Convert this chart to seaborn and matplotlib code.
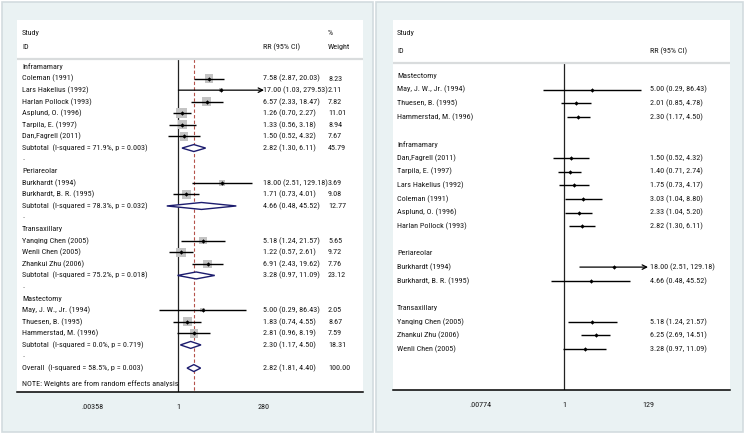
import numpy as np
import pandas as pd
import seaborn as sns
import matplotlib.pyplot as plt
from matplotlib import font_manager
from matplotlib.patches import Rectangle, Polygon

# ---- left panel: subgroup meta-analysis ----
left_groups = ["Inframamary", "Periareolar", "Transaxillary", "Mastectomy"]
left_studies = [
    ["Coleman (1991)", "Lars Hakelius (1992)", "Harlan Pollock (1993)",
     "Asplund, O. (1996)", "Tarpila, E. (1997)", "Dan,Fagrell (2011)"],
    ["Burkhardt (1994)", "Burkhardt, B. R. (1995)"],
    ["Yanqing Chen (2005)", "Wenli Chen (2005)", "Zhankui Zhu (2006)"],
    ["May, J. W., Jr. (1994)", "Thuesen, B. (1995)", "Hammerstad, M. (1996)"],
]
left_rr = [[7.58, 17.00, 6.57, 1.26, 1.33, 1.50], [18.00, 1.71], [5.18, 1.22, 6.91], [5.00, 1.83, 2.81]]
left_lo = [[2.87, 1.03, 2.33, 0.70, 0.56, 0.52], [2.51, 0.73], [1.24, 0.57, 2.43], [0.29, 0.74, 0.96]]
left_hi = [[20.03, 279.53, 18.47, 2.27, 3.18, 4.32], [129.18, 4.01], [21.57, 2.61, 19.62], [86.43, 4.55, 8.19]]
left_wt = [[8.23, 2.11, 7.82, 11.01, 8.94, 7.67], [3.69, 9.08], [5.65, 9.72, 7.76], [2.05, 8.67, 7.59]]
left_arrow = ["Lars Hakelius (1992)"]

sub_i2 = ["71.9%", "78.3%", "75.2%", "0.0%"]
sub_p = ["0.003", "0.032", "0.018", "0.719"]
sub_rr = [2.82, 4.66, 3.28, 2.30]
sub_lo = [1.30, 0.48, 0.97, 1.17]
sub_hi = [6.11, 45.52, 11.09, 4.50]
sub_wt = [45.79, 12.77, 23.12, 18.31]

overall = {"i2": "58.5%", "p": "0.003", "rr": 2.82, "lo": 1.81, "hi": 4.40, "wt": 100.00}
left_ticks = [0.00358, 1, 280]
left_ticklabels = [".00358", "1", "280"]

# ---- right panel: individual studies ----
right_groups = ["Mastectomy", "Inframamary", "Periareolar", "Transaxillary"]
right_studies = [
    ["May, J. W., Jr. (1994)", "Thuesen, B. (1995)", "Hammerstad, M. (1996)"],
    ["Dan,Fagrell (2011)", "Tarpila, E. (1997)", "Lars Hakelius (1992)",
     "Coleman (1991)", "Asplund, O. (1996)", "Harlan Pollock (1993)"],
    ["Burkhardt (1994)", "Burkhardt, B. R. (1995)"],
    ["Yanqing Chen (2005)", "Zhankui Zhu (2006)", "Wenli Chen (2005)"],
]
right_rr = [[5.00, 2.01, 2.30], [1.50, 1.40, 1.75, 3.03, 2.33, 2.82], [18.00, 4.66], [5.18, 6.25, 3.28]]
right_lo = [[0.29, 0.85, 1.17], [0.52, 0.71, 0.73, 1.04, 1.04, 1.30], [2.51, 0.48], [1.24, 2.69, 0.97]]
right_hi = [[86.43, 4.78, 4.50], [4.32, 2.74, 4.17, 8.80, 5.20, 6.11], [129.18, 45.52], [21.57, 14.51, 11.09]]
right_arrow = ["Burkhardt (1994)"]
right_ticks = [0.00774, 1, 129]
right_ticklabels = [".00774", "1", "129"]

W, H = 745, 434
BG = "#eaf2f3"
EDGE = "#d3dcdf"
TXT = "#1a1a1a"
NAVY = "#1c1c6e"

sns.set_style("white")

# Stata draws these in a narrow sans; use a condensed face if one is installed
fonts = font_manager.fontManager.ttflist
names = {f.name for f in fonts}
FONT, STRETCH, FS = "Liberation Sans", "normal", 5.2
for cand in ["Liberation Sans Narrow", "Arial Narrow", "Roboto Condensed",
             "Open Sans Condensed", "Noto Sans Condensed"]:
    if cand in names:
        FONT, STRETCH, FS = cand, "normal", 5.9
        break
else:
    for f in fonts:
        if f.name in ("DejaVu Sans", "Noto Sans", "Open Sans") and \
                str(f.stretch) in ("condensed", "semi-condensed", "75", "87.5"):
            FONT, STRETCH, FS = f.name, "condensed", 5.6
            break
plt.rcParams["font.family"] = [FONT, "DejaVu Sans"]
plt.rcParams["font.stretch"] = STRETCH

fig = plt.figure(figsize=(W / 100, H / 100), dpi=100)


def pix_axes(x0, y0, x1, y1):
    ax = fig.add_axes([x0 / W, 1 - y1 / H, (x1 - x0) / W, (y1 - y0) / H])
    ax.set_zorder(2)
    return ax


def outer_box(x0, y0, x1, y1):
    fig.patches.append(Rectangle((x0 / W, 1 - y1 / H), (x1 - x0) / W, (y1 - y0) / H,
                                 transform=fig.transFigure, facecolor=BG,
                                 edgecolor=EDGE, lw=1.2, zorder=-5))


def setup_axes(ax, px0, px1, px_one, ppl, row0_px, row_h, top_px, bot_px, ticks, labels):
    ax.set_xscale("log")
    ax.set_xlim(np.exp((px0 - px_one) / ppl), np.exp((px1 - px_one) / ppl))
    ax.set_ylim((bot_px - row0_px) / row_h, (top_px - row0_px) / row_h)
    ax.set_facecolor("white")
    for s in ["top", "left", "right"]:
        ax.spines[s].set_visible(False)
    ax.spines["bottom"].set_color("black")
    ax.spines["bottom"].set_linewidth(1.1)
    ax.set_yticks([])
    ax.set_xticks(ticks)
    ax.set_xticklabels(labels)
    ax.minorticks_off()
    ax.tick_params(axis="x", direction="out", length=4.5, width=0.8, pad=4,
                   labelsize=FS, colors="black", labelcolor=TXT)


def ci_line(ax, row, lo, hi, arrow):
    if arrow:
        ax.annotate("", xy=(hi, row), xytext=(lo, row),
                    arrowprops=dict(arrowstyle="->", color="black", lw=0.9,
                                    shrinkA=0, shrinkB=0, mutation_scale=8))
    else:
        ax.hlines(row, lo, hi, color="black", lw=1.0, zorder=3)


def diamond(ax, row, est, lo, hi, h=0.3):
    ax.add_patch(Polygon([(lo, row), (est, row - h), (hi, row), (est, row + h)],
                         closed=True, facecolor="white", edgecolor=NAVY, lw=1.0, zorder=4))


# ================= LEFT PANEL =================
outer_box(2, 2, 373, 432)
axl = pix_axes(17, 20, 363, 392)
L_ROW0, L_RH = 67, 11.58
setup_axes(axl, 17, 363, 178, 15.27, L_ROW0, L_RH, 20, 392, left_ticks, left_ticklabels)
tl = axl.get_yaxis_transform()

recs = []
row = 0
for g, grp in enumerate(left_groups):
    axl.text(0.0145, row, grp, transform=tl, fontsize=FS, color=TXT, va="center")
    row += 1
    for j, name in enumerate(left_studies[g]):
        recs.append(dict(name=name, row=row, rr=left_rr[g][j], lo=left_lo[g][j],
                         hi=left_hi[g][j], wt=left_wt[g][j]))
        row += 1
    axl.text(0.0145, row, f"Subtotal  (I-squared = {sub_i2[g]}, p = {sub_p[g]})",
             transform=tl, fontsize=FS, color=TXT, va="center")
    diamond(axl, row, sub_rr[g], sub_lo[g], sub_hi[g])
    axl.text(0.711, row, f"{sub_rr[g]:.2f} ({sub_lo[g]:.2f}, {sub_hi[g]:.2f})",
             transform=tl, fontsize=FS, color=TXT, va="center")
    axl.text(0.899, row, f"{sub_wt[g]:.2f}", transform=tl, fontsize=FS, color=TXT, va="center")
    row += 1
    axl.text(0.0145, row - 0.1, ".", transform=tl, fontsize=FS, color=TXT, va="center")
    row += 1

axl.text(0.0145, row, f"Overall  (I-squared = {overall['i2']}, p = {overall['p']})",
         transform=tl, fontsize=FS, color=TXT, va="center")
diamond(axl, row, overall["rr"], overall["lo"], overall["hi"])
axl.text(0.711, row, f"{overall['rr']:.2f} ({overall['lo']:.2f}, {overall['hi']:.2f})",
         transform=tl, fontsize=FS, color=TXT, va="center")
axl.text(0.899, row, f"{overall['wt']:.2f}", transform=tl, fontsize=FS, color=TXT, va="center")
axl.text(0.0145, row + 1.38, "NOTE: Weights are from random effects analysis",
         transform=tl, fontsize=FS, color=TXT, va="center")

dfl = pd.DataFrame(recs)
for r in dfl.itertuples():
    ci_line(axl, r.row, r.lo, r.hi, r.name in left_arrow)
    axl.text(0.0145, r.row, r.name, transform=tl, fontsize=FS, color=TXT, va="center")
    axl.text(0.711, r.row, f"{r.rr:.2f} ({r.lo:.2f}, {r.hi:.2f})",
             transform=tl, fontsize=FS, color=TXT, va="center")
    axl.text(0.899, r.row, f"{r.wt:.2f}", transform=tl, fontsize=FS, color=TXT, va="center")

sns.scatterplot(data=dfl, x="rr", y="row", marker="s", s=dfl["wt"] * 4.8,
                color="#c4c4c4", linewidth=0, ax=axl, zorder=2, legend=False)
sns.scatterplot(data=dfl, x="rr", y="row", marker="D", s=5, color="black",
                linewidth=0, ax=axl, zorder=5, legend=False)
axl.set_xlabel("")
axl.set_ylabel("")

# headers
hdr_sep = (59 - L_ROW0) / L_RH
axl.text(0.0145, (33 - L_ROW0) / L_RH, "Study", transform=tl, fontsize=FS, color=TXT, va="center")
axl.text(0.0145, (47 - L_ROW0) / L_RH, "ID", transform=tl, fontsize=FS, color=TXT, va="center")
axl.text(0.711, (47 - L_ROW0) / L_RH, "RR (95% CI)", transform=tl, fontsize=FS, color=TXT, va="center")
axl.text(0.899, (33 - L_ROW0) / L_RH, "%", transform=tl, fontsize=FS, color=TXT, va="center")
axl.text(0.899, (47 - L_ROW0) / L_RH, "Weight", transform=tl, fontsize=FS, color=TXT, va="center")
axl.axhline(hdr_sep, color="#d9dcdd", lw=1.6)
axl.vlines(1, hdr_sep, (392 - L_ROW0) / L_RH, color="#222222", lw=0.9, zorder=1)
axl.vlines(overall["rr"], hdr_sep, (392 - L_ROW0) / L_RH, color="#b5524a", lw=0.8,
           linestyles=(0, (3, 2)), zorder=1)

# ================= RIGHT PANEL =================
outer_box(376, 2, 743, 432)
axr = pix_axes(393, 20, 730, 390)
R_ROW0, R_RH = 76, 13.65
setup_axes(axr, 393, 730, 564, 17.28, R_ROW0, R_RH, 20, 390, right_ticks, right_ticklabels)
tr = axr.get_yaxis_transform()

recs = []
row = 0
for g, grp in enumerate(right_groups):
    axr.text(0.012, row, grp, transform=tr, fontsize=FS, color=TXT, va="center")
    row += 1
    for j, name in enumerate(right_studies[g]):
        recs.append(dict(name=name, row=row, rr=right_rr[g][j], lo=right_lo[g][j],
                         hi=right_hi[g][j]))
        row += 1
    row += 1

dfr = pd.DataFrame(recs)
for r in dfr.itertuples():
    ci_line(axr, r.row, r.lo, r.hi, r.name in right_arrow)
    axr.text(0.012, r.row, r.name, transform=tr, fontsize=FS, color=TXT, va="center")
    axr.text(0.763, r.row, f"{r.rr:.2f} ({r.lo:.2f}, {r.hi:.2f})",
             transform=tr, fontsize=FS, color=TXT, va="center")

sns.scatterplot(data=dfr, x="rr", y="row", marker="D", s=5, color="black",
                linewidth=0, ax=axr, zorder=5, legend=False)
axr.set_xlabel("")
axr.set_ylabel("")

r_sep = (63 - R_ROW0) / R_RH
axr.text(0.012, (33 - R_ROW0) / R_RH, "Study", transform=tr, fontsize=FS, color=TXT, va="center")
axr.text(0.012, (51 - R_ROW0) / R_RH, "ID", transform=tr, fontsize=FS, color=TXT, va="center")
axr.text(0.763, (51 - R_ROW0) / R_RH, "RR (95% CI)", transform=tr, fontsize=FS, color=TXT, va="center")
axr.axhline(r_sep, color="#d9dcdd", lw=1.6)
axr.vlines(1, r_sep, (390 - R_ROW0) / R_RH, color="#222222", lw=0.9, zorder=1)

fig.savefig("out.png", dpi=100, facecolor="white")
